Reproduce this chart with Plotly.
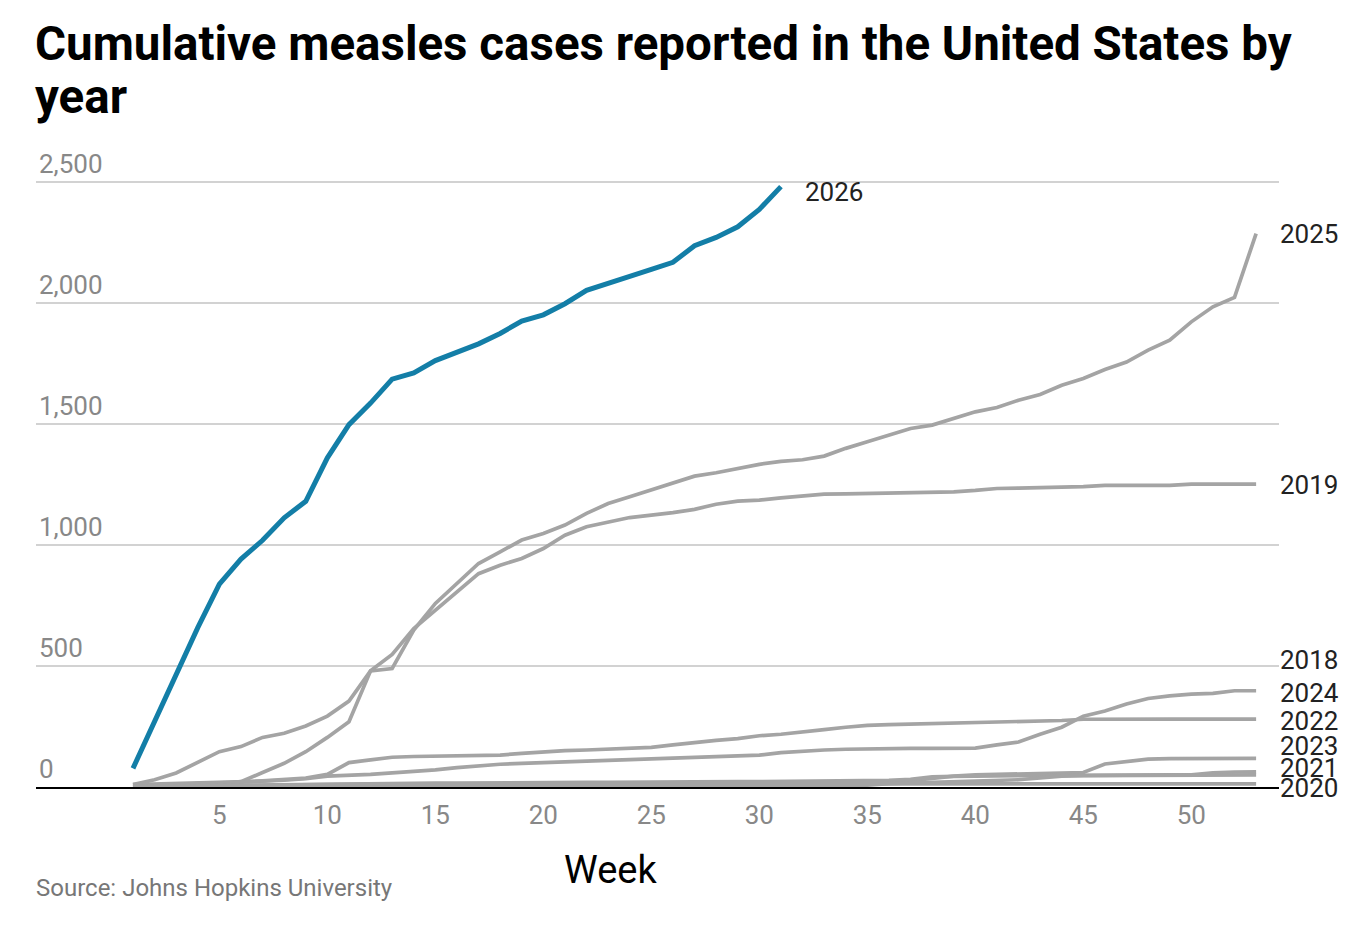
import plotly.graph_objects as go

weeks = list(range(1, 54))

# cumulative cases per week
cases_2026 = [77, 270, 466, 659, 839, 942, 1020, 1113, 1181, 1361, 1498, 1587, 1686, 1712, 1763, 1798,
              1832, 1875, 1926, 1952, 1998, 2053, 2080, 2111, 2140, 2169, 2238, 2272, 2316, 2388, 2482]
cases_2025 = [2, 3, 5, 8, 12, 22, 60, 98, 146, 205, 270, 480, 490, 649, 759, 842, 924, 972, 1021, 1048,
              1083, 1131, 1172, 1200, 1227, 1255, 1285, 1299, 1317, 1334, 1346, 1353, 1368, 1400, 1427,
              1455, 1482, 1496, 1523, 1551, 1569, 1599, 1623, 1661, 1689, 1726, 1757, 1806, 1847, 1923,
              1985, 2024, 2288]
cases_2019 = [10, 30, 58, 100, 146, 167, 205, 222, 252, 293, 355, 480, 548, 655, 731, 806, 882, 917, 945,
              986, 1041, 1076, 1096, 1114, 1124, 1134, 1148, 1169, 1182, 1186, 1195, 1203, 1211, 1212,
              1214, 1215, 1216, 1218, 1220, 1226, 1234, 1236, 1237, 1238, 1242, 1247, 1247, 1247, 1247,
              1252, 1252, 1252, 1252]
cases_2018 = [10, 12, 13, 15, 17, 20, 24, 28, 34, 45, 48, 52, 58, 63, 71, 80, 88, 94, 98, 102, 105, 107,
              110, 113, 116, 119, 123, 127, 130, 132, 142, 149, 153, 156, 158, 160, 160, 160, 160, 161,
              174, 186, 218, 247, 293, 314, 343, 366, 377, 384, 387, 398, 398]
cases_2024 = [5, 8, 10, 12, 15, 20, 25, 30, 37, 52, 101, 112, 123, 126, 127, 129, 131, 132, 139, 145,
              150, 153, 156, 160, 164, 174, 185, 193, 200, 212, 218, 226, 237, 247, 255, 258, 260, 262,
              263, 264, 266, 268, 271, 275, 280, 281, 281, 281, 281, 281, 281, 281, 281]
cases_2022 = [1, 1, 2, 2, 3, 3, 3, 4, 4, 5, 5, 5, 6, 6, 6, 7, 7, 7, 8, 8, 8, 9, 9, 9, 10, 10, 10, 11,
              11, 12, 12, 13, 14, 16, 18, 22, 26, 35, 45, 50, 52, 53, 54, 56, 60, 95, 106, 115, 117,
              118, 118, 118, 118]
cases_2023 = [2, 3, 4, 6, 8, 10, 11, 12, 13, 14, 14, 15, 15, 16, 16, 16, 17, 17, 18, 18, 18, 19, 19, 20,
              20, 20, 21, 21, 22, 22, 23, 23, 24, 25, 26, 28, 32, 42, 44, 46, 46, 47, 47, 48, 48, 48,
              49, 49, 50, 50, 58, 62, 63]
cases_2021 = [1, 1, 1, 2, 2, 2, 2, 2, 3, 3, 3, 3, 3, 4, 4, 4, 4, 4, 5, 5, 5, 5, 5, 5, 6, 6, 6, 6, 6,
              7, 7, 7, 7, 8, 8, 14, 17, 20, 23, 25, 28, 30, 38, 45, 47, 47, 47, 48, 48, 48, 49, 50, 50]
cases_2020 = [1, 2, 3, 4, 5, 7, 8, 10, 12, 13, 13, 13, 13, 13, 13, 13, 13, 13, 13, 13, 13, 13, 13, 13,
              13, 13, 13, 13, 13, 13, 13, 13, 13, 13, 13, 13, 13, 13, 13, 13, 13, 13, 13, 13, 13, 13,
              13, 13, 13, 13, 13, 13, 13]

grey_years = {
    "2025": cases_2025,
    "2019": cases_2019,
    "2018": cases_2018,
    "2024": cases_2024,
    "2022": cases_2022,
    "2023": cases_2023,
    "2021": cases_2021,
    "2020": cases_2020,
}

# where the end labels sit (spread apart so they don't collide)
label_y = {"2025": 2285, "2019": 1248, "2018": 525, "2024": 388,
           "2022": 273, "2023": 169, "2021": 79, "2020": 0}
label_yshift = {"2020": -1}

GREY = "#a4a4a4"
BLUE = "#137ea7"

fig = go.Figure()

for year, vals in grey_years.items():
    fig.add_trace(go.Scatter(
        x=weeks[:len(vals)],
        y=vals,
        mode="lines",
        line=dict(color=GREY, width=3.7),
        name=year,
    ))

fig.add_trace(go.Scatter(
    x=weeks[:len(cases_2026)],
    y=cases_2026,
    mode="lines",
    line=dict(color=BLUE, width=5),
    name="2026",
))

annotations = []
for year, vals in grey_years.items():
    annotations.append(dict(
        x=weeks[len(vals) - 1], y=label_y[year], xref="x", yref="y",
        text=year, showarrow=False, xanchor="left", yanchor="middle",
        xshift=22, yshift=label_yshift.get(year, 0),
        font=dict(family="Roboto", size=26, color="#222222"),
    ))
annotations.append(dict(
    x=weeks[len(cases_2026) - 1], y=2459, xref="x", yref="y",
    text="2026", showarrow=False, xanchor="left", yanchor="middle",
    xshift=22, font=dict(family="Roboto", size=26, color="#222222"),
))

# title (two lines, tighter spacing than plotly's default)
annotations.append(dict(
    x=0, y=1, xref="paper", yref="paper", yshift=102, xshift=-3,
    text="<b>Cumulative measles cases reported in the United States by</b>",
    showarrow=False, xanchor="left", yanchor="middle",
    font=dict(family="Roboto", size=47.5, color="#000000"),
))
annotations.append(dict(
    x=0, y=1, xref="paper", yref="paper", yshift=49, xshift=-3,
    text="<b>year</b>",
    showarrow=False, xanchor="left", yanchor="middle",
    font=dict(family="Roboto", size=47.5, color="#000000"),
))
annotations.append(dict(
    x=0.462, y=0, xref="paper", yref="paper", yshift=-83,
    text="Week", showarrow=False, xanchor="center", yanchor="middle",
    font=dict(family="Roboto", size=38, color="#000000"),
))
annotations.append(dict(
    x=0, y=0, xref="paper", yref="paper", yshift=-101, xshift=-2,
    text="Source: Johns Hopkins University", showarrow=False,
    xanchor="left", yanchor="middle",
    font=dict(family="Roboto", size=24, color="#777777"),
))

fig.update_layout(
    width=1358,
    height=917,
    margin=dict(l=28, r=87, t=138, b=138),
    plot_bgcolor="white",
    paper_bgcolor="white",
    showlegend=False,
    annotations=annotations,
    font=dict(family="Roboto"),
    xaxis=dict(
        range=[-3.49, 54.06],
        tickvals=[5, 10, 15, 20, 25, 30, 35, 40, 45, 50],
        showgrid=False,
        zeroline=False,
        showline=True,
        linecolor="#000000",
        linewidth=2,
        ticks="",
        ticklabelstandoff=4,
        tickfont=dict(family="Roboto", size=26, color="#888888"),
    ),
    yaxis=dict(
        range=[0, 2650],
        tickvals=[0, 500, 1000, 1500, 2000, 2500],
        tickformat=",",
        showgrid=True,
        gridcolor="#d2d2d2",
        gridwidth=2,
        zeroline=False,
        showline=False,
        ticks="",
        ticklabelposition="inside top",
        tickfont=dict(family="Roboto", size=26, color="#888888"),
    ),
)

fig.write_html("out.html")
